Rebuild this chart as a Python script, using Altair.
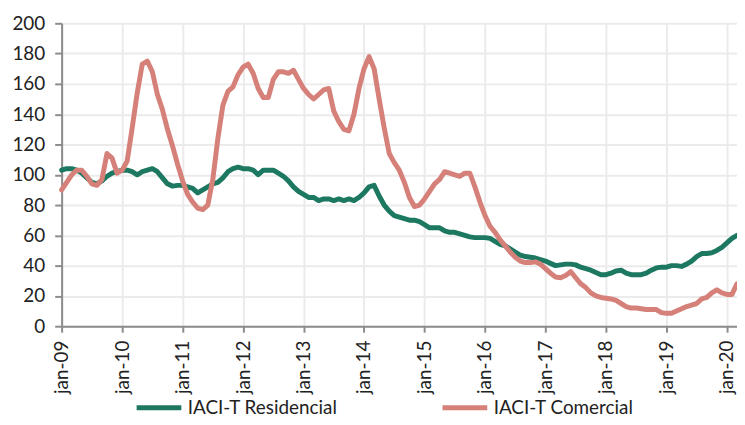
import altair as alt
import pandas as pd

residencial = [
    103, 104, 104, 103, 101, 98, 95, 94, 96, 99, 101, 102,
    103, 103, 102, 100, 102, 103, 104, 102, 98, 94, 92.5, 93,
    93, 92, 91, 88, 90, 92, 94, 95, 98, 102, 104, 105,
    104, 104, 103, 100, 103, 103, 103, 101, 99, 96, 92, 89,
    87, 85, 85, 83, 84, 84, 83, 84, 83, 84, 83, 85,
    88, 92, 93, 86, 80, 76, 73, 72, 71, 70, 70, 69,
    67, 65, 65, 65, 63, 62, 62, 61, 60, 59, 58.5, 58.5,
    58.5, 58, 56, 54, 53, 51, 49, 47, 46, 45.5, 45, 44,
    43, 41.5, 40, 40.5, 41, 41, 40.5, 39, 38, 37, 35.5, 34,
    34, 35, 36.5, 37, 35, 34, 34, 34, 35, 37, 38.5, 39,
    39, 40, 40, 39.5, 41, 43, 46, 48, 48, 48.5, 50, 52,
    55, 58, 60,
]
comercial = [
    90, 95, 100, 103, 103, 99, 94, 93, 97, 114, 111, 101,
    103, 109, 131, 154, 173, 175, 168, 153, 143, 130, 119, 107,
    96, 87, 82, 78, 77, 80, 97, 124, 146, 155, 158, 166,
    171, 173, 167, 157, 151, 151, 163, 168, 168, 167, 169, 163,
    157, 153, 150, 153, 156, 157, 142, 135, 130, 129, 140, 157,
    170, 178, 170, 150, 131, 114, 108, 103, 95, 85, 79, 80,
    84, 89, 94, 97, 102, 101, 100, 99, 101, 101, 92, 82,
    73, 66, 62, 57, 53, 49, 45.5, 43, 42, 42, 42.5, 41,
    38, 35, 32.5, 32, 33.5, 36, 32, 28, 25.5, 22, 20, 19,
    18.5, 18, 17, 15, 13, 12, 12, 11.5, 11, 11, 11, 9,
    8.5, 8.5, 10, 11.5, 13, 14, 15, 18, 19, 22, 24, 22,
    21, 21, 28,
]
tick_labels = ["jan-09", "jan-10", "jan-11", "jan-12", "jan-13", "jan-14",
               "jan-15", "jan-16", "jan-17", "jan-18", "jan-19", "jan-20"]
series_names = ["IACI-T Residencial", "IACI-T Comercial"]
colors = ["#1d7862", "#d6807a"]

rows = []
for i, v in enumerate(residencial):
    rows.append({"m": i, "v": v, "s": series_names[0]})
for i, v in enumerate(comercial):
    rows.append({"m": i, "v": v, "s": series_names[1]})
df = pd.DataFrame(rows)

label_expr = "[" + ",".join("'%s'" % t for t in tick_labels) + "][round(datum.value/12)]"
FONT = "Lato"

chart = alt.Chart(df).mark_line(strokeWidth=5, strokeJoin="round", strokeCap="round").encode(
    x=alt.X("m:Q",
            scale=alt.Scale(domain=[0, 134], nice=False, zero=False),
            axis=alt.Axis(values=[12 * k for k in range(len(tick_labels))],
                          labelExpr=label_expr, labelAngle=-90, labelAlign="right",
                          labelBaseline="middle", labelPadding=8,
                          title=None, grid=True, gridColor="#ebebeb", gridWidth=2,
                          domainColor="#8c8c8c", domainWidth=2, tickColor="#8c8c8c",
                          tickWidth=2, tickSize=6, labelFont=FONT, labelFontSize=19,
                          labelColor="#222222")),
    y=alt.Y("v:Q",
            scale=alt.Scale(domain=[0, 200], nice=False),
            axis=alt.Axis(values=list(range(0, 201, 20)), title=None, grid=True,
                          gridColor="#ebebeb", gridWidth=2, domainColor="#8c8c8c",
                          domainWidth=2, tickColor="#8c8c8c", tickWidth=2, tickSize=7,
                          labelPadding=10, labelFont=FONT, labelFontSize=19,
                          labelColor="#222222")),
    color=alt.Color("s:N", sort=series_names,
                    scale=alt.Scale(domain=series_names, range=colors),
                    legend=alt.Legend(orient="none", legendX=73, legendY=362,
                                      direction="horizontal", title=None,
                                      symbolType="stroke", symbolSize=2025,
                                      symbolStrokeWidth=5, labelFont=FONT,
                                      labelFontSize=19, labelColor="#222222",
                                      labelOffset=4, columnPadding=95, padding=0,
                                      labelLimit=300)),
).properties(
    width=680, height=305,
    autosize=alt.AutoSizeParams(type="none"),
    padding={"left": 54, "top": 14, "right": 0, "bottom": 90},
).configure_view(stroke=None)

chart.save("out.html", embed_options={"renderer": "svg", "actions": False})
